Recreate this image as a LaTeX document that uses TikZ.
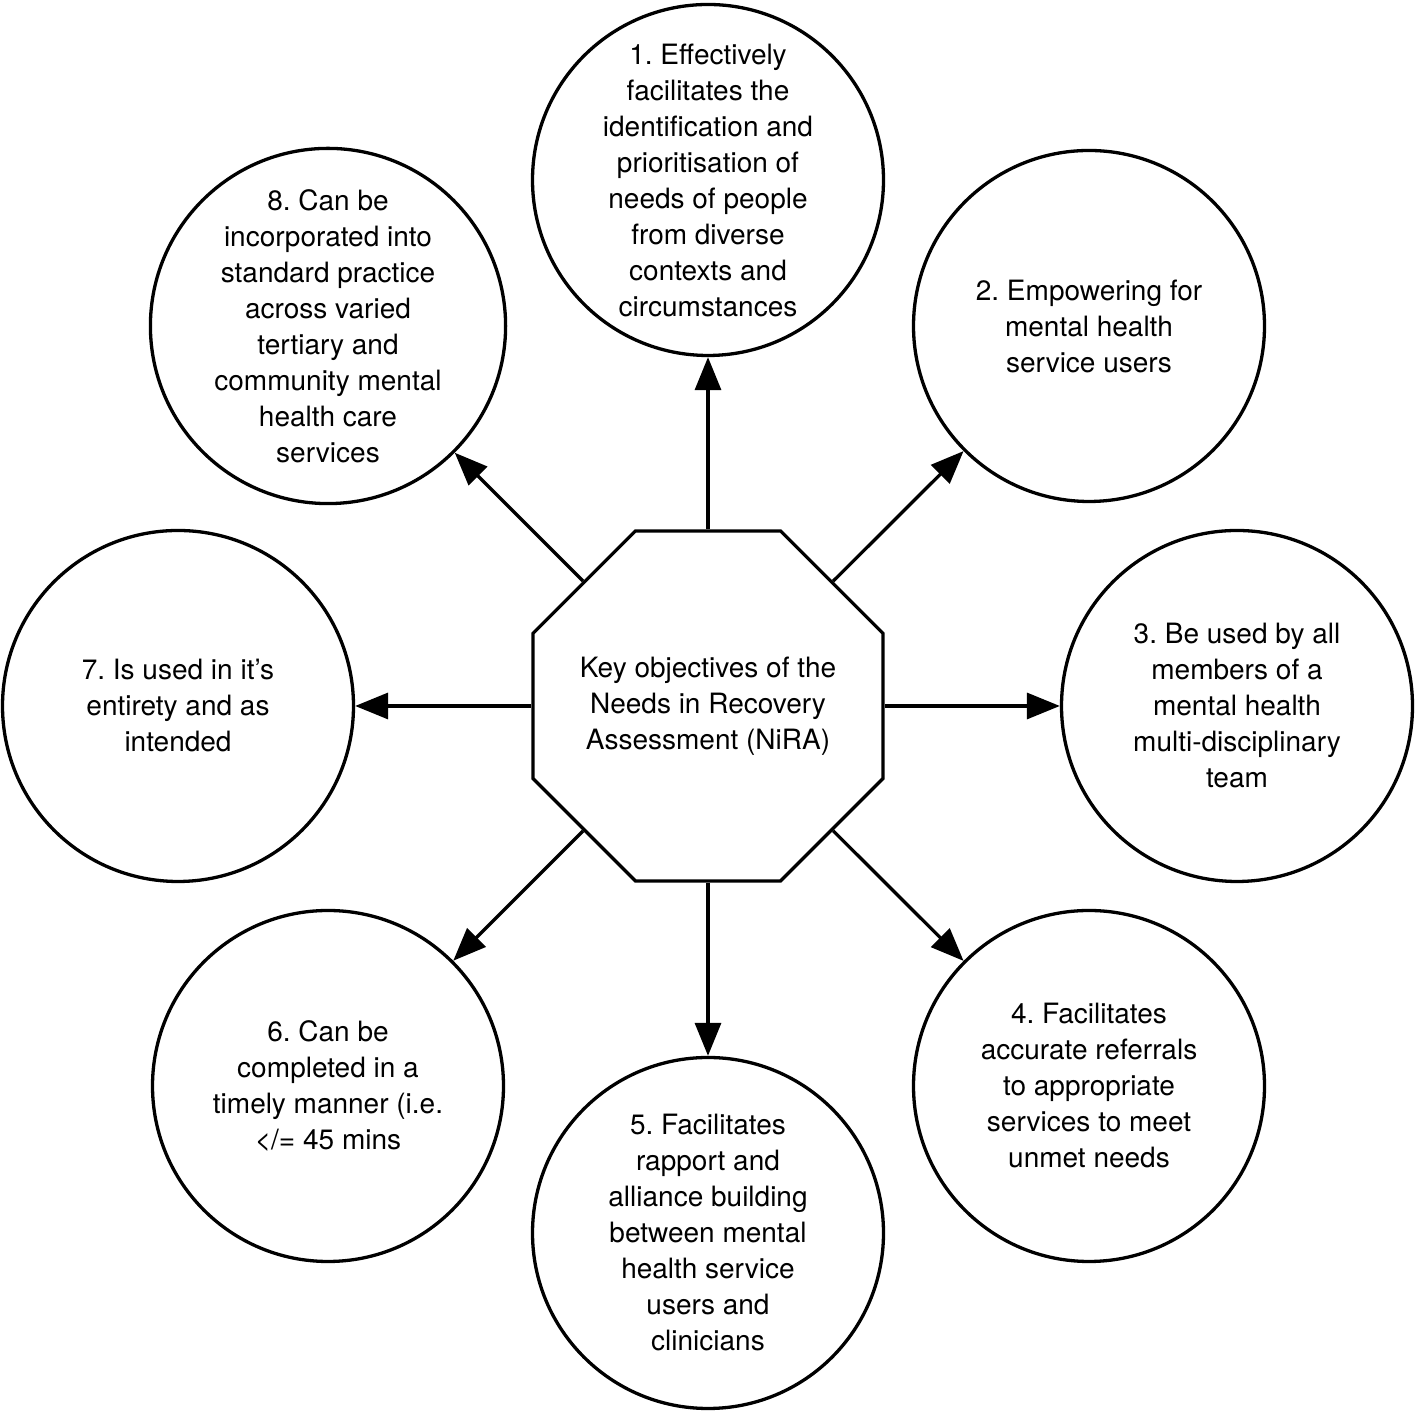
\documentclass[tikz,border=0pt]{standalone}
\usepackage{fontspec}
\setmainfont{TeX Gyre Heros}
\frenchspacing
\usetikzlibrary{arrows.meta,shapes.geometric}
\tikzset{
  txt/.style={align=center,font=\fontsize{28}{36}\selectfont},
  goal/.style={circle,draw,line width=3.3pt,minimum size=351pt,inner sep=0pt,txt},
  hub/.style={regular polygon,regular polygon sides=8,draw,line width=3.3pt,
              minimum size=379pt,inner sep=0pt,
              label={[txt]center:#1}},
  arr/.style={-{Triangle[length=33pt,width=26pt]},line width=3.3pt},
}
\begin{document}
\begin{tikzpicture}[x=1pt,y=1pt]
    \useasboundingbox (0,0) rectangle (1416,1412);
    \node[hub={Key objectives of the\\Needs in Recovery\\Assessment (NiRA)}] (nira) at (708,706) {};
    \node[goal] (g1) at (708,1232) {1. Effectively\\facilitates the\\identification and\\prioritisation of\\needs of people\\from diverse\\contexts and\\circumstances};
    \node[goal] (g2) at (1089,1086) {2. Empowering for\\mental health\\service users};
    \node[goal] (g3) at (1237,706) {3. Be used by all\\members of a\\mental health\\multi-disciplinary\\team};
    \node[goal] (g4) at (1089,326) {4. Facilitates\\accurate referrals\\to appropriate\\services to meet\\unmet needs};
    \node[goal] (g5) at (708,179) {5. Facilitates\\rapport and\\alliance building\\between mental\\health service\\users and\\clinicians};
    \node[goal] (g6) at (328,326) {6. Can be\\completed in a\\timely manner (i.e.\\</= 45 mins};
    \node[goal] (g7) at (178,706) {7. Is used in it’s\\entirety and as\\intended};
    \node[goal] (g8) at (328,1086) {8. Can be\\incorporated into\\standard practice\\across varied\\tertiary and\\community mental\\health care\\services};
    \foreach \g in {g1,g2,g3,g4,g5,g6,g7,g8}
      \draw[arr] (nira) -- (\g);
\end{tikzpicture}
\end{document}
